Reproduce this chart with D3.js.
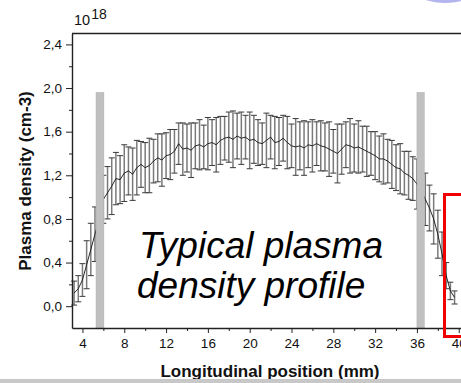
<!DOCTYPE html>
<html>
<head>
<meta charset="utf-8">
<script src="https://cdn.jsdelivr.net/npm/d3@7"></script>
<style>
  body { margin: 0; background: #fff; }
  svg { display: block; font-family: "Liberation Sans", Arial, sans-serif; }
</style>
</head>
<body>
<div id="container"></div>
<script>
// positions (mm)
const positions = [
  3.2, 3.6, 4.0, 4.4, 4.8, 5.2, 5.6, 6.0, 6.4, 6.8,
  7.2, 7.6, 8.0, 8.4, 8.8, 9.2, 9.6, 10.0, 10.4, 10.8,
  11.2, 11.6, 12.0, 12.4, 12.8, 13.2, 13.6, 14.0, 14.4, 14.8,
  15.2, 15.6, 16.0, 16.4, 16.8, 17.2, 17.6, 18.0, 18.4, 18.8,
  19.2, 19.6, 20.0, 20.4, 20.8, 21.2, 21.6, 22.0, 22.4, 22.8,
  23.2, 23.6, 24.0, 24.4, 24.8, 25.2, 25.6, 26.0, 26.4, 26.8,
  27.2, 27.6, 28.0, 28.4, 28.8, 29.2, 29.6, 30.0, 30.4, 30.8,
  31.2, 31.6, 32.0, 32.4, 32.8, 33.2, 33.6, 34.0, 34.4, 34.8,
  35.2, 35.6, 36.0, 36.4, 36.8, 37.2, 37.6, 38.0, 38.4, 38.8,
  39.2, 39.6
];
// density (x 10^18 cm-3)
const density = [
  0.12, 0.16, 0.24, 0.38, 0.52, 0.66, 0.80, 0.98, 1.04, 1.10,
  1.17, 1.16, 1.22, 1.24, 1.21, 1.27, 1.30, 1.27, 1.29, 1.33,
  1.36, 1.34, 1.38, 1.39, 1.42, 1.49, 1.44, 1.45, 1.43, 1.47,
  1.48, 1.46, 1.49, 1.50, 1.48, 1.52, 1.54, 1.55, 1.53, 1.56,
  1.54, 1.55, 1.52, 1.53, 1.50, 1.49, 1.52, 1.55, 1.50, 1.51,
  1.54, 1.50, 1.47, 1.46, 1.47, 1.45, 1.48, 1.47, 1.49, 1.47,
  1.46, 1.44, 1.42, 1.40, 1.44, 1.48, 1.47, 1.45, 1.46, 1.44,
  1.42, 1.40, 1.38, 1.35, 1.35, 1.33, 1.30, 1.27, 1.26, 1.22,
  1.20, 1.17, 1.12, 1.06, 0.98, 0.90, 0.80, 0.66, 0.48, 0.28,
  0.14, 0.08
];
// error bar half-widths
const errors = [
  0.11, 0.12, 0.15, 0.22, 0.24, 0.25, 0.26, 0.22, 0.24, 0.26,
  0.24, 0.22, 0.26, 0.22, 0.24, 0.25, 0.21, 0.23, 0.25, 0.20,
  0.22, 0.24, 0.21, 0.23, 0.20, 0.19, 0.24, 0.22, 0.25, 0.21,
  0.23, 0.20, 0.24, 0.21, 0.25, 0.22, 0.20, 0.23, 0.26, 0.21,
  0.24, 0.20, 0.26, 0.22, 0.21, 0.19, 0.25, 0.20, 0.24, 0.22,
  0.21, 0.24, 0.20, 0.26, 0.22, 0.25, 0.21, 0.24, 0.20, 0.23,
  0.22, 0.25, 0.20, 0.27, 0.23, 0.21, 0.25, 0.22, 0.24, 0.21,
  0.23, 0.20, 0.22, 0.21, 0.23, 0.20, 0.22, 0.21, 0.23, 0.20,
  0.22, 0.20, 0.23, 0.22, 0.24, 0.21, 0.23, 0.22, 0.20, 0.12,
  0.08, 0.06
];
// gray marker bars (start mm, end mm, height)
const markerStart = [5.3, 36.0];
const markerEnd = [6.05, 36.7];
const markerTop = [1.96, 1.96];

const xTicks = [4, 8, 12, 16, 20, 24, 28, 32, 36, 40];
const xMinor = [6, 10, 14, 18, 22, 26, 30, 34, 38];
const yTicks = [0, 0.4, 0.8, 1.2, 1.6, 2.0, 2.4];
const yMinor = [0.2, 0.6, 1.0, 1.4, 1.8, 2.2];

const W = 461, H = 383;
const plotLeft = 72, plotTop = 33.5, plotBottom = 328;

const data = positions.map((p, i) => ({x: p, y: density[i], e: errors[i]}));

const svg = d3.select("#container").append("svg")
  .attr("width", W).attr("height", H);

const x = d3.scaleLinear().domain([3, 41]).range([plotLeft, 469.2]);
const y = d3.scaleLinear().domain([-0.2, 2.5]).range([plotBottom, plotTop]);

const fmt = d => d3.format(".1f")(d).replace(".", ",");

// frame top line
svg.append("line")
  .attr("x1", plotLeft).attr("x2", W).attr("y1", plotTop).attr("y2", plotTop)
  .attr("stroke", "#222").attr("stroke-width", 1.4);

/* ERROR BARS */
const eb = svg.append("g");
eb.selectAll("line.v").data(data).enter().append("line")
  .attr("x1", d => x(d.x)).attr("x2", d => x(d.x))
  .attr("y1", d => y(d.y + d.e)).attr("y2", d => y(d.y - d.e))
  .attr("stroke", "#7a7a7a").attr("stroke-width", 1.5);
eb.selectAll("line.t").data(data).enter().append("line")
  .attr("x1", d => x(d.x) - 3).attr("x2", d => x(d.x) + 3)
  .attr("y1", d => y(d.y + d.e)).attr("y2", d => y(d.y + d.e))
  .attr("stroke", "#3a3a3a").attr("stroke-width", 1);
eb.selectAll("line.b").data(data).enter().append("line")
  .attr("x1", d => x(d.x) - 3).attr("x2", d => x(d.x) + 3)
  .attr("y1", d => y(d.y - d.e)).attr("y2", d => y(d.y - d.e))
  .attr("stroke", "#3a3a3a").attr("stroke-width", 1);

svg.append("path").datum(data)
  .attr("fill", "none").attr("stroke", "#111").attr("stroke-width", 0.9)
  .attr("d", d3.line().x(d => x(d.x)).y(d => y(d.y)));

/* GRAY MARKERS */
svg.selectAll("rect.marker").data(markerStart).enter().append("rect")
  .attr("x", (d, i) => x(d))
  .attr("width", (d, i) => x(markerEnd[i]) - x(d))
  .attr("y", (d, i) => y(markerTop[i]))
  .attr("height", (d, i) => plotBottom - y(markerTop[i]))
  .attr("fill", "#c0c0c0").attr("stroke", "#b0b0b0").attr("stroke-width", 0.5);

/* AXES */
svg.append("g").attr("transform", `translate(${plotLeft},0)`)
  .call(d3.axisLeft(y).tickValues(yTicks).tickFormat(fmt).tickSize(6).tickSizeOuter(0).tickPadding(4));
svg.append("g").attr("transform", `translate(${plotLeft},0)`)
  .call(d3.axisLeft(y).tickValues(yMinor).tickFormat("").tickSize(3).tickSizeOuter(0))
  .select(".domain").remove();

svg.append("g").attr("transform", `translate(0,${plotBottom})`)
  .call(d3.axisBottom(x).tickValues(xTicks).tickFormat(d3.format("d")).tickSize(5).tickSizeOuter(0).tickPadding(5));
svg.append("g").attr("transform", `translate(0,${plotBottom})`)
  .call(d3.axisBottom(x).tickValues(xMinor).tickFormat("").tickSize(3).tickSizeOuter(0))
  .select(".domain").remove();

svg.selectAll(".domain").attr("stroke", "#222").attr("stroke-width", 1.4);
svg.selectAll(".tick line").attr("stroke", "#222").attr("stroke-width", 1);
svg.selectAll(".tick text")
  .attr("font-family", "'Liberation Sans', Arial, sans-serif")
  .attr("font-size", 13.5).attr("fill", "#111");

/* LABELS */
const expo = svg.append("text").attr("x", 74).attr("y", 25)
  .attr("font-size", 14.5).attr("fill", "#111");
expo.append("tspan").text("10");
expo.append("tspan").attr("dx", 1).attr("dy", -6).attr("font-size", 14).text("18");

svg.append("text")
  .attr("transform", "translate(31,181) rotate(-90)")
  .attr("text-anchor", "middle")
  .attr("font-size", 17).attr("font-weight", "bold").attr("fill", "#111")
  .text("Plasma density (cm-3)");

svg.append("text")
  .attr("x", 270).attr("y", 377)
  .attr("text-anchor", "middle")
  .attr("font-size", 17).attr("font-weight", "bold").attr("fill", "#111")
  .text("Longitudinal position (mm)");

svg.append("text").attr("x", 139).attr("y", 258)
  .attr("font-size", 37).attr("font-style", "italic").attr("fill", "#000")
  .text("Typical plasma");
svg.append("text").attr("x", 137).attr("y", 298)
  .attr("font-size", 37).attr("font-style", "italic").attr("fill", "#000")
  .text("density profile");

// red highlight box (runs off the right edge)
svg.append("rect")
  .attr("x", 444.5).attr("y", 194.5).attr("width", 40).attr("height", 142)
  .attr("fill", "none").attr("stroke", "#f00000").attr("stroke-width", 3);

// gray strip at the bottom and the purple shape top-right
svg.append("rect").attr("x", 0).attr("y", 379).attr("width", W).attr("height", 4)
  .attr("fill", "#c8c8c8");
svg.append("ellipse").attr("cx", 445).attr("cy", -6).attr("rx", 26).attr("ry", 9)
  .attr("fill", "#b4b4ee");
</script>
</body>
</html>
